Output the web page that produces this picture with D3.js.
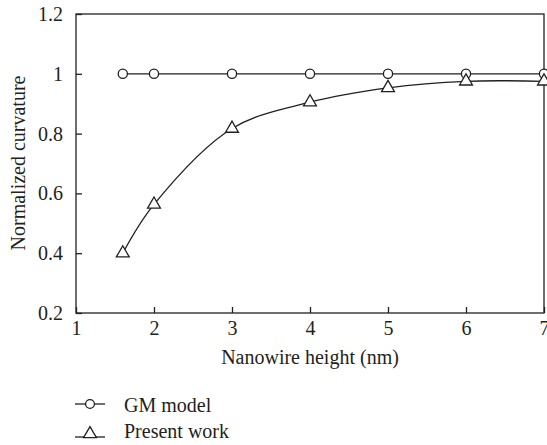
<!DOCTYPE html>
<html>
<head>
<meta charset="utf-8">
<script src="https://cdn.jsdelivr.net/npm/d3@7"></script>
<style>
  body { margin: 0; background: #fff; }
</style>
</head>
<body>
<div id="chart"></div>
<script>
'use strict';
(function(){

	// data
	var heights = [1.6, 2, 3, 4, 5, 6, 7];
	var gmModel = [1, 1, 1, 1, 1, 1, 1];
	var presentWork = [0.40, 0.563, 0.817, 0.905, 0.953, 0.975, 0.975];
	var xTicks = [1, 2, 3, 4, 5, 6, 7];
	var yTicks = [0.2, 0.4, 0.6, 0.8, 1, 1.2];
	var seriesNames = ['GM model', 'Present work'];

	var width = 547, height = 445;
	var margin = { top: 14, right: 3, bottom: 132, left: 76 };
	var ink = '#231f20';
	var font = '"Liberation Serif", serif';
	var fontSize = 20;

	var svg = d3.select('#chart')
		.append('svg')
		.attr('width', width)
		.attr('height', height);

	var x = d3.scaleLinear().domain([1, 7]).range([margin.left, width - margin.right]);
	var y = d3.scaleLinear().domain([0.2, 1.2]).range([height - margin.bottom, margin.top]);

	// frame
	svg.append('rect')
		.attr('x', x(1))
		.attr('y', y(1.2))
		.attr('width', x(7) - x(1))
		.attr('height', y(0.2) - y(1.2))
		.attr('fill', 'none')
		.attr('stroke', ink)
		.attr('stroke-width', 1.3);

	// axes, ticks point inward
	var xAxis = svg.append('g')
		.attr('transform', 'translate(0,' + y(0.2) + ')')
		.call(d3.axisBottom(x).tickValues(xTicks).tickSizeInner(-6).tickSizeOuter(0).tickPadding(8)
			.tickFormat(d3.format('d')));

	var yAxis = svg.append('g')
		.attr('transform', 'translate(' + x(1) + ',0)')
		.call(d3.axisLeft(y).tickValues(yTicks).tickSizeInner(-6).tickSizeOuter(0).tickPadding(13)
			.tickFormat(function (d) { return d === 1 ? '1' : d3.format('.1f')(d); }));

	[xAxis, yAxis].forEach(function (g) {
		g.select('.domain').remove();
		g.selectAll('line').attr('stroke', ink).attr('stroke-width', 1.3);
		g.selectAll('text')
			.style('font-family', font)
			.style('font-size', fontSize + 'px')
			.attr('fill', ink);
	});
	xAxis.selectAll('text').attr('dy', '0.71em');

	// axis titles
	svg.append('text')
		.attr('x', (x(1) + x(7)) / 2)
		.attr('y', 364)
		.attr('text-anchor', 'middle')
		.style('font-family', font)
		.style('font-size', fontSize + 'px')
		.attr('fill', ink)
		.text('Nanowire height (nm)');

	svg.append('text')
		.attr('transform', 'translate(25,163) rotate(-90)')
		.attr('text-anchor', 'middle')
		.style('font-family', font)
		.style('font-size', fontSize + 'px')
		.attr('fill', ink)
		.text('Normalized curvature');

	var lineGM = d3.line()
		.x(function (d, i) { return x(heights[i]); })
		.y(function (d) { return y(d); });

	var linePW = d3.line()
		.x(function (d, i) { return x(heights[i]); })
		.y(function (d) { return y(d); })
		.curve(d3.curveCatmullRom.alpha(0.5));

	svg.append('path')
		.datum(gmModel)
		.attr('d', lineGM)
		.attr('fill', 'none')
		.attr('stroke', ink)
		.attr('stroke-width', 1.3);

	svg.append('path')
		.datum(presentWork)
		.attr('d', linePW)
		.attr('fill', 'none')
		.attr('stroke', ink)
		.attr('stroke-width', 1.3);

	var tri = d3.symbol().type(d3.symbolTriangle).size(72);

	svg.selectAll('circle.gm')
		.data(gmModel)
		.enter()
		.append('circle')
		.attr('class', 'gm')
		.attr('cx', function (d, i) { return x(heights[i]); })
		.attr('cy', function (d) { return y(d); })
		.attr('r', 4.6)
		.attr('fill', '#fff')
		.attr('stroke', ink)
		.attr('stroke-width', 1.3);

	svg.selectAll('path.pw')
		.data(presentWork)
		.enter()
		.append('path')
		.attr('class', 'pw')
		.attr('d', tri)
		.attr('transform', function (d, i) {
			return 'translate(' + x(heights[i]) + ',' + y(d) + ')';
		})
		.attr('fill', '#fff')
		.attr('stroke', ink)
		.attr('stroke-width', 1.3);

	// legend: circle row has its text centred on the line,
	// triangle row sits a little lower with the line at the text baseline
	var legendRows = [
		{ lineY: 404, textY: 412, markY: 404 },
		{ lineY: 437, textY: 438, markY: 434 }
	];
	var legend = svg.append('g').attr('transform', 'translate(75,0)');
	seriesNames.forEach(function (name, i) {
		var r = legendRows[i];
		var row = legend.append('g');
		row.append('line')
			.attr('x1', 0).attr('x2', 30)
			.attr('y1', r.lineY).attr('y2', r.lineY)
			.attr('stroke', ink).attr('stroke-width', 1.3);
		if (i === 0) {
			row.append('circle')
				.attr('cx', 15).attr('cy', r.markY).attr('r', 4.4)
				.attr('fill', '#fff').attr('stroke', ink).attr('stroke-width', 1.3);
		} else {
			row.append('path')
				.attr('d', tri)
				.attr('transform', 'translate(15,' + r.markY + ')')
				.attr('fill', '#fff').attr('stroke', ink).attr('stroke-width', 1.3);
		}
		row.append('text')
			.attr('x', 49)
			.attr('y', r.textY)
			.style('font-family', font)
			.style('font-size', fontSize + 'px')
			.attr('fill', ink)
			.text(name);
	});

}());
</script>
</body>
</html>
